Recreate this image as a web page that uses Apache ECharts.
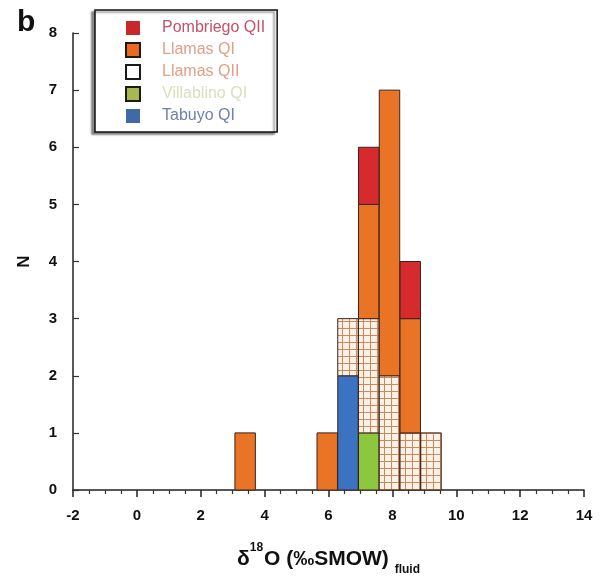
<!DOCTYPE html>
<html><head><meta charset="utf-8">
<script src="https://cdn.jsdelivr.net/npm/echarts@6/dist/echarts.min.js"></script>
<style>html,body{margin:0;padding:0;background:#fff}#c{width:604px;height:576px}</style>
</head><body><div id="c"></div>
<script>
// Histogram bins (left edges, in ‰) and width
const binLeft = [3.07, 5.64, 6.29, 6.94, 7.59, 8.24, 8.89];
const binWidth = 0.64;
// Counts per bin, stacked bottom -> top in this order
const seriesNames = ['Tabuyo QI', 'Villablino QI', 'Llamas QII', 'Llamas QI', 'Pombriego QII'];
const tabuyoQI     = [0, 0, 2, 0, 0, 0, 0];
const villablinoQI = [0, 0, 0, 1, 0, 0, 0];
const llamasQII    = [0, 0, 1, 2, 2, 1, 1];
const llamasQI     = [1, 1, 0, 2, 5, 2, 0];
const pombriegoQII = [0, 0, 0, 1, 0, 1, 0];
const legendOrder = ['Pombriego QII', 'Llamas QI', 'Llamas QII', 'Villablino QI', 'Tabuyo QI'];
const xTicks = [-2, 14, 2];
const yTicks = [0, 8, 1];

const counts = [tabuyoQI, villablinoQI, llamasQII, llamasQI, pombriegoQII];

// hatch pattern
const pc = document.createElement('canvas');
pc.width = 7; pc.height = 7;
const g = pc.getContext('2d');
g.fillStyle = '#fdf0e4'; g.fillRect(0, 0, 7, 7);
g.fillStyle = '#c98a62';
g.fillRect(6, 0, 1, 7); g.fillRect(0, 6, 7, 1);
const hatch = {image: pc, repeat: 'repeat'};

const fills = {
  'Tabuyo QI': '#3b73c2',
  'Villablino QI': '#8dc63f',
  'Llamas QII': hatch,
  'Llamas QI': '#ea7426',
  'Pombriego QII': '#d62a2e'
};
const legendStyle = {
  'Pombriego QII': {icon: {color: '#c9282b', borderWidth: 0}, text: '#c4506a'},
  'Llamas QI': {icon: {color: '#ea6a22', borderColor: '#1a1a1a', borderWidth: 2}, text: '#e39e86'},
  'Llamas QII': {icon: {color: '#ffffff', borderColor: '#1a1a1a', borderWidth: 2}, text: '#e39e86'},
  'Villablino QI': {icon: {color: '#a8b850', borderColor: '#1a1a1a', borderWidth: 2}, text: '#d9e0bc'},
  'Tabuyo QI': {icon: {color: '#3f6aa8', borderWidth: 0}, text: '#6f80b0'}
};

const base = binLeft.map(() => 0);
const series = seriesNames.map((name, si) => {
  const data = [];
  counts[si].forEach((c, i) => {
    if (c > 0) {
      data.push([binLeft[i], binLeft[i] + binWidth, base[i], base[i] + c]);
      base[i] += c;
    }
  });
  return {
    name: name,
    type: 'custom',
    itemStyle: {color: typeof fills[name] === 'string' ? fills[name] : '#ffffff'},
    encode: {x: [0, 1], y: [2, 3]},
    data: data,
    renderItem: function (params, api) {
      const p0 = api.coord([api.value(0), api.value(3)]);
      const p1 = api.coord([api.value(1), api.value(2)]);
      return {
        type: 'rect',
        shape: {x: p0[0], y: p0[1], width: p1[0] - p0[0], height: p1[1] - p0[1]},
        style: {fill: fills[name], stroke: '#3a2418', lineWidth: 1}
      };
    }
  };
});

const chart = echarts.init(document.getElementById('c'), null, {renderer: 'canvas'});
chart.setOption({
  animation: false,
  backgroundColor: '#ffffff',
  title: {text: 'b', left: 12, top: 3, textStyle: {fontSize: 30, fontWeight: 'bold', color: '#111', fontFamily: 'Liberation Sans'}},
  grid: {left: 73, right: 20, top: 33, bottom: 86, containLabel: false, outerBoundsMode: 'none'},
  legend: {
    orient: 'vertical', left: 95, top: 10,
    padding: [10, 12, 8, 30],
    itemWidth: 14, itemHeight: 14, itemGap: 6,
    borderColor: '#111', borderWidth: 1.5,
    backgroundColor: '#fff',
    shadowColor: 'rgba(0,0,0,0.45)', shadowBlur: 2, shadowOffsetX: -3, shadowOffsetY: 2,
    selectedMode: false,
    textStyle: {fontSize: 16, fontFamily: 'Liberation Sans', padding: [0, 0, 0, 17]},
    data: legendOrder.map(n => ({name: n, icon: 'rect', itemStyle: legendStyle[n].icon, textStyle: {color: legendStyle[n].text}}))
  },
  xAxis: {
    type: 'value', min: xTicks[0], max: xTicks[1], interval: xTicks[2],
    name: '{m|δ}{s|18}{m|O (‰SMOW) }{f|fluid}',
    nameLocation: 'middle', nameGap: 52,
    nameTextStyle: {
      rich: {
        m: {fontSize: 21, fontWeight: 'bold', color: '#111', fontFamily: 'Liberation Sans', lineHeight: 34, verticalAlign: 'middle'},
        s: {fontSize: 12, fontWeight: 'bold', color: '#111', fontFamily: 'Liberation Sans', verticalAlign: 'top', lineHeight: 34, padding: [0, 1, 12, 0]},
        f: {fontSize: 12, fontWeight: 'bold', color: '#111', fontFamily: 'Liberation Sans', verticalAlign: 'bottom', lineHeight: 34, padding: [20, 0, 0, 0]}
      }
    },
    axisLine: {onZero: false, lineStyle: {color: '#222', width: 1.5}},
    axisTick: {length: 7, lineStyle: {color: '#222', width: 1.5}},
    minorTick: {show: true, splitNumber: 4, length: 4, lineStyle: {color: '#333', width: 1.2}},
    axisLabel: {fontSize: 15, fontWeight: 'bold', color: '#111', fontFamily: 'Liberation Sans', margin: 18},
    splitLine: {show: false}
  },
  yAxis: {
    type: 'value', min: yTicks[0], max: yTicks[1], interval: yTicks[2],
    name: 'N', nameLocation: 'middle', nameGap: 40,
    nameTextStyle: {fontSize: 17, fontWeight: 'bold', color: '#111', fontFamily: 'Liberation Sans'},
    axisLine: {show: true, onZero: false, lineStyle: {color: '#222', width: 1.5}},
    axisTick: {show: true, inside: true, length: 6, lineStyle: {color: '#333', width: 1.2}},
    axisLabel: {fontSize: 15, fontWeight: 'bold', color: '#111', fontFamily: 'Liberation Sans', margin: 16},
    splitLine: {show: false}
  },
  series: series
});
</script>
</body></html>
